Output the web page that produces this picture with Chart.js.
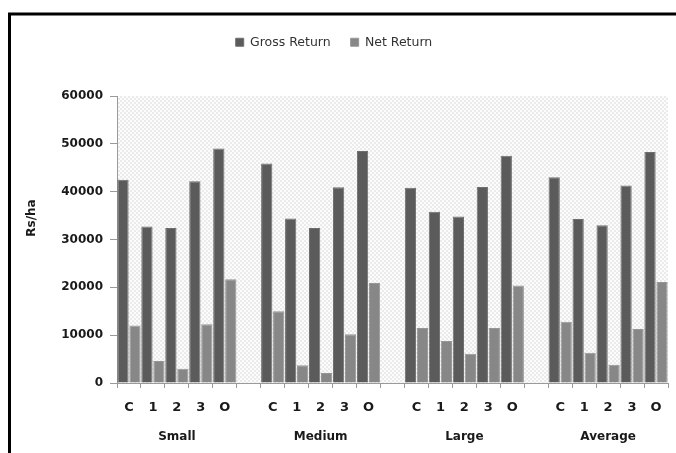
<!DOCTYPE html>
<html>
<head>
<meta charset="utf-8">
<title>Gross and Net Return by Farm Size</title>
<script src="https://cdn.jsdelivr.net/npm/chart.js@4/dist/chart.umd.min.js"></script>
<style>
  html, body { margin: 0; padding: 0; background: #ffffff; }
  #wrap { width: 676px; height: 453px; }
</style>
</head>
<body>
<div id="wrap"><canvas id="c" width="676" height="453"></canvas></div>
<script>
// Categories within each farm-size group and the group names
const categories = ['C', '1', '2', '3', 'O'];
const groups = ['Small', 'Medium', 'Large', 'Average'];

// Returns in Rs/ha for each group (order follows categories)
const grossSmall   = [42500, 32700, 32400, 42200, 49000];
const netSmall     = [12000,  4600,  3000, 12300, 21700];
const grossMedium  = [45900, 34400, 32400, 40900, 48500];
const netMedium    = [15000,  3700,  2100, 10200, 20900];
const grossLarge   = [40800, 35800, 34800, 41000, 47500];
const netLarge     = [11500,  8800,  6100, 11500, 20400];
const grossAverage = [43000, 34300, 33000, 41300, 48300];
const netAverage   = [12800,  6300,  3800, 11300, 21100];

// Value axis ticks
const yMin = 0;
const yMax = 60000;
const yStep = 10000;

const seriesNames = ['Gross Return', 'Net Return'];
const grossByGroup = [grossSmall, grossMedium, grossLarge, grossAverage];
const netByGroup = [netSmall, netMedium, netLarge, netAverage];

// Flatten groups into one category axis with an empty slot between groups
const labels = [];
const grossData = [];
const netData = [];
const groupMiddle = [];
groups.forEach((g, gi) => {
  groupMiddle.push(labels.length + Math.floor(categories.length / 2));
  categories.forEach((c, ci) => {
    labels.push(c);
    grossData.push(grossByGroup[gi][ci]);
    netData.push(netByGroup[gi][ci]);
  });
  if (gi < groups.length - 1) {
    labels.push('');
    grossData.push(null);
    netData.push(null);
  }
});

// Fine checked fill for the plotting area
function makePattern() {
  const p = document.createElement('canvas');
  p.width = 4; p.height = 4;
  const pc = p.getContext('2d');
  pc.fillStyle = '#fcfcfc';
  pc.fillRect(0, 0, 4, 4);
  pc.fillStyle = '#ebebeb';
  pc.fillRect(0, 0, 2, 2);
  pc.fillRect(2, 2, 2, 2);
  return pc.createPattern(p, 'repeat');
}

const plotBackground = {
  id: 'plotBackground',
  beforeDraw(chart) {
    const { ctx, chartArea: a } = chart;
    ctx.save();
    ctx.fillStyle = makePattern();
    ctx.fillRect(a.left, a.top, a.right - a.left, a.bottom - a.top);
    ctx.restore();
  }
};

// Group names under the category labels, axis title and outer frame
const decorations = {
  id: 'decorations',
  afterDraw(chart) {
    const { ctx } = chart;
    const x = chart.scales.x;
    ctx.save();
    ctx.fillStyle = '#1a1a1a';
    ctx.font = 'bold 12px "DejaVu Sans"';
    ctx.textAlign = 'center';
    ctx.textBaseline = 'middle';
    groups.forEach((g, gi) => {
      ctx.fillText(g, x.getPixelForValue(groupMiddle[gi]), 437);
    });

    ctx.translate(32, 218);
    ctx.rotate(-Math.PI / 2);
    ctx.fillText('Rs/ha', 0, 0);
    ctx.restore();

    ctx.save();
    ctx.strokeStyle = '#000000';
    ctx.lineWidth = 3;
    ctx.beginPath();
    ctx.moveTo(9.5, 460);
    ctx.lineTo(9.5, 14);
    ctx.lineTo(690, 14);
    ctx.stroke();
    ctx.restore();
  }
};

const legendSpacing = {
  id: 'legendSpacing',
  beforeInit(chart) {
    const fit = chart.legend.fit;
    chart.legend.fit = function () {
      fit.bind(chart.legend)();
      this.height = 80;
    };
  }
};

new Chart(document.getElementById('c'), {
  type: 'bar',
  data: {
    labels: labels,
    datasets: [
      {
        label: seriesNames[0],
        data: grossData,
        backgroundColor: '#5b5b5b',
        borderColor: '#6e6e6e',
        borderWidth: 1,
        categoryPercentage: 1.0,
        barPercentage: 0.94
      },
      {
        label: seriesNames[1],
        data: netData,
        backgroundColor: '#878787',
        borderColor: '#969696',
        borderWidth: 1,
        categoryPercentage: 1.0,
        barPercentage: 0.94
      }
    ]
  },
  options: {
    responsive: false,
    animation: false,
    devicePixelRatio: 1,
    layout: { padding: { top: 16, right: 8, left: 0, bottom: 0 } },
    plugins: {
      legend: {
        position: 'top',
        labels: {
          boxWidth: 8,
          boxHeight: 8,
          padding: 20,
          color: '#333333',
          font: { family: '"DejaVu Sans"', size: 12.5 }
        }
      },
      tooltip: { enabled: false }
    },
    scales: {
      x: {
        offset: true,
        grid: {
          offset: true,
          drawOnChartArea: false,
          tickLength: 5,
          color: '#9a9a9a'
        },
        border: { color: '#9a9a9a' },
        ticks: {
          autoSkip: false,
          maxRotation: 0,
          padding: 12,
          color: '#1a1a1a',
          font: { family: '"DejaVu Sans"', size: 13, weight: 'bold' }
        },
        afterFit(scale) { scale.height = 70; }
      },
      y: {
        min: yMin,
        max: yMax,
        ticks: {
          stepSize: yStep,
          padding: 7,
          color: '#1a1a1a',
          font: { family: '"DejaVu Sans"', size: 12, weight: 'bold' },
          callback: (v) => String(v)
        },
        grid: {
          drawOnChartArea: false,
          tickLength: 7,
          color: '#9a9a9a'
        },
        border: { color: '#9a9a9a' },
        afterFit(scale) { scale.width = 117; }
      }
    }
  },
  plugins: [plotBackground, decorations, legendSpacing]
});
</script>
</body>
</html>
